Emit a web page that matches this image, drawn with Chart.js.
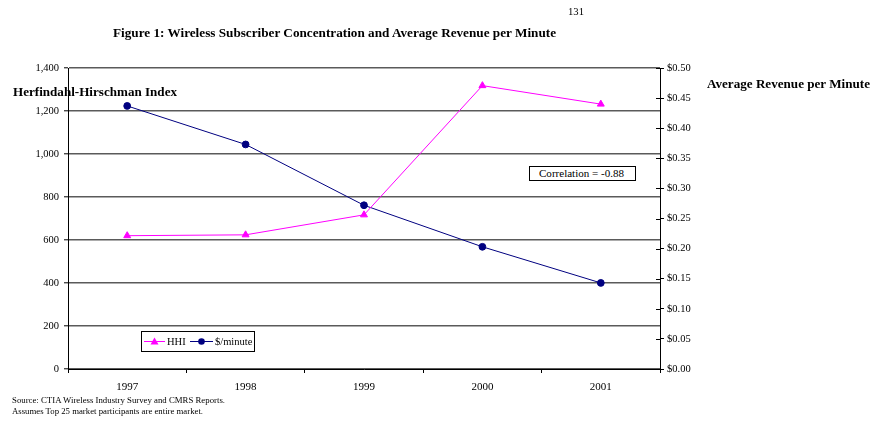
<!DOCTYPE html>
<html>
<head>
<meta charset="utf-8">
<script src="https://cdn.jsdelivr.net/npm/chart.js@4.4.1/dist/chart.umd.min.js"></script>
<style>
  html, body { margin: 0; padding: 0; background: #fff; }
  #wrap { position: relative; width: 872px; height: 421px; overflow: hidden; font-family: "Liberation Serif", "Times New Roman", serif; color: #000; }
  #c { position: absolute; left: 0; top: 0; }
  .t { position: absolute; white-space: nowrap; transform-origin: 0 50%; }
  .b { font-weight: bold; }
  #corr { position: absolute; left: 529px; top: 166px; width: 105px; height: 13px; border: 1px solid #000; background: #fff; }
</style>
</head>
<body>
<div id="wrap">
  <canvas id="c" width="872" height="421"></canvas>
  <div class="t" data-w="16" style="left:568px; top:5px; font-size:11px; line-height:12px;">131</div>
  <div class="t b" data-w="443" style="left:113px; top:26px; font-size:13px; line-height:14px;">Figure 1: Wireless Subscriber Concentration and Average Revenue per Minute</div>
  <div class="t b" data-w="164" style="left:13px; top:85px; font-size:12.5px; line-height:14px;">Herfindahl-Hirschman Index</div>
  <div class="t b" data-w="163" style="left:707px; top:77px; font-size:12.5px; line-height:14px;">Average Revenue per Minute</div>
  <div id="corr"></div>
  <div class="t" data-w="85" style="left:539px; top:167px; font-size:11px; line-height:13px;">Correlation = -0.88</div>
  <div class="t" data-w="213" style="left:12px; top:395px; font-size:8.5px; line-height:10px;">Source: CTIA Wireless Industry Survey and CMRS Reports.</div>
  <div class="t" data-w="191" style="left:12px; top:406px; font-size:8.5px; line-height:10px;">Assumes Top 25 market participants are entire market.</div>
</div>
<script>
// ---- data ----
const years = ["1997", "1998", "1999", "2000", "2001"];
const hhiValues = [620, 624, 717, 1318, 1232];
const revenuePerMinute = [0.437, 0.373, 0.272, 0.203, 0.143];
const hhiTicks = [0, 200, 400, 600, 800, 1000, 1200, 1400];
const revenueTicks = [0, 0.05, 0.10, 0.15, 0.20, 0.25, 0.30, 0.35, 0.40, 0.45, 0.50];
const seriesNames = ["HHI", "$/minute"];

// fit HTML texts to measured widths
document.querySelectorAll('.t[data-w]').forEach(el => {
  const w = el.getBoundingClientRect().width;
  const target = parseFloat(el.dataset.w);
  if (w > 0) el.style.transform = 'scaleX(' + (target / w).toFixed(4) + ')';
});

Chart.defaults.font.family = '"Liberation Serif", "Times New Roman", serif';
Chart.defaults.color = '#000';

const MAGENTA = '#ff00ff';
const NAVY = '#000080';

const extras = {
  id: 'extras',
  afterDraw(chart) {
    const ctx = chart.ctx;
    const y1 = chart.scales.y1;
    // inner tick marks on right axis
    ctx.save();
    ctx.strokeStyle = '#000';
    ctx.lineWidth = 1;
    y1.ticks.forEach((t, i) => {
      const py = Math.round(y1.getPixelForTick(i)) + 0.5;
      ctx.beginPath();
      ctx.moveTo(y1.left - 4, py);
      ctx.lineTo(y1.left, py);
      ctx.stroke();
    });
    // legend
    const bx = 141.5, by = 331.5, bw = 113, bh = 20;
    ctx.fillStyle = '#fff';
    ctx.fillRect(bx, by, bw, bh);
    ctx.strokeStyle = '#000';
    ctx.strokeRect(bx, by, bw, bh);
    const cy = by + bh / 2;
    // HHI
    ctx.strokeStyle = MAGENTA;
    ctx.beginPath(); ctx.moveTo(144, cy); ctx.lineTo(165, cy); ctx.stroke();
    ctx.fillStyle = MAGENTA;
    ctx.beginPath();
    ctx.moveTo(154.5, cy - 4); ctx.lineTo(158.5, cy + 3); ctx.lineTo(150.5, cy + 3); ctx.closePath(); ctx.fill();
    ctx.fillStyle = '#000';
    ctx.font = '10.5px "Liberation Serif", serif';
    ctx.textBaseline = 'middle';
    ctx.fillText(seriesNames[0], 167, cy + 0.5);
    // $/minute
    ctx.strokeStyle = NAVY;
    ctx.beginPath(); ctx.moveTo(190, cy); ctx.lineTo(213, cy); ctx.stroke();
    ctx.fillStyle = NAVY;
    ctx.beginPath(); ctx.arc(201.5, cy, 3.3, 0, Math.PI * 2); ctx.fill();
    ctx.fillStyle = '#000';
    ctx.fillText(seriesNames[1], 215, cy + 0.5);
    ctx.restore();
  }
};

new Chart(document.getElementById('c'), {
  type: 'line',
  data: {
    labels: years,
    datasets: [
      {
        label: seriesNames[0],
        data: hhiValues,
        yAxisID: 'y',
        borderColor: MAGENTA,
        backgroundColor: MAGENTA,
        borderWidth: 1,
        pointStyle: 'triangle',
        pointRadius: 4,
        pointBorderWidth: 1,
        tension: 0
      },
      {
        label: seriesNames[1],
        data: revenuePerMinute,
        yAxisID: 'y1',
        borderColor: NAVY,
        backgroundColor: NAVY,
        borderWidth: 1,
        pointStyle: 'circle',
        pointRadius: 3.4,
        pointBorderWidth: 1,
        tension: 0
      }
    ]
  },
  options: {
    responsive: false,
    animation: false,
    devicePixelRatio: 1,
    layout: { padding: { top: 68, left: 0, right: 0, bottom: 0 } },
    plugins: { legend: { display: false }, tooltip: { enabled: false }, title: { display: false } },
    scales: {
      x: {
        type: 'category',
        offset: true,
        grid: { offset: true, drawOnChartArea: false, drawTicks: true, tickLength: 4, color: '#000', lineWidth: 1 },
        border: { color: '#000', width: 1 },
        ticks: { font: { size: 11 }, color: '#000', padding: 8, maxRotation: 0 },
        afterFit: s => { s.height = 52; }
      },
      y: {
        position: 'left',
        min: 0, max: 1400,
        afterBuildTicks: s => { s.ticks = hhiTicks.map(v => ({ value: v })); },
        ticks: { font: { size: 10.5 }, color: '#000', padding: 5, callback: v => Number(v).toLocaleString('en-US') },
        grid: { color: '#5a5a5a', lineWidth: 1.6, tickColor: '#000', tickWidth: 1, tickLength: 4 },
        border: { color: '#000', width: 1 },
        afterFit: s => { s.width = 68; }
      },
      y1: {
        position: 'right',
        min: 0, max: 0.5,
        afterBuildTicks: s => { s.ticks = revenueTicks.map(v => ({ value: v })); },
        ticks: { font: { size: 10.5 }, color: '#000', padding: 3, callback: v => '$' + Number(v).toFixed(2) },
        grid: { drawOnChartArea: false, tickColor: '#000', tickLength: 4, lineWidth: 1 },
        border: { color: '#000', width: 1 },
        afterFit: s => { s.width = 212; }
      }
    }
  },
  plugins: [extras]
});
</script>
</body>
</html>
